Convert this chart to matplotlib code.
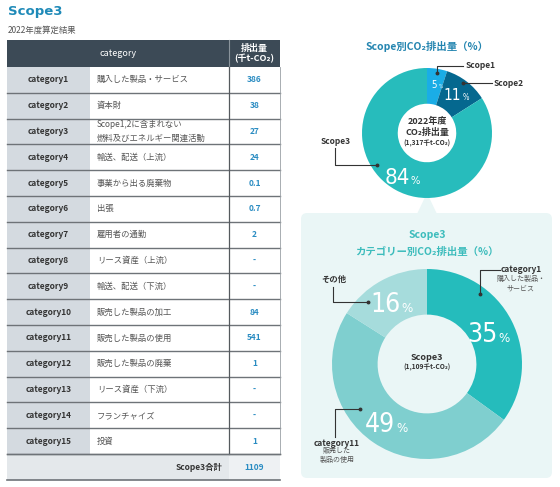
import matplotlib.pyplot as plt
import numpy as np
from matplotlib.patches import FancyBboxPatch, Polygon

plt.rcParams['font.family'] = ['Noto Sans CJK JP', 'DejaVu Sans']

# data
categories = ['category%d' % i for i in range(1, 16)]
descriptions = ['購入した製品・サービス', '資本財',
                'Scope1,2に含まれない\n燃料及びエネルギー関連活動',
                '輸送、配送（上流）', '事業から出る廃棄物', '出張', '雇用者の通勤',
                'リース資産（上流）', '輸送、配送（下流）', '販売した製品の加工',
                '販売した製品の使用', '販売した製品の廃棄', 'リース資産（下流）',
                'フランチャイズ', '投資']
emissions = ['386', '38', '27', '24', '0.1', '0.7', '2', '-', '-', '84',
             '541', '1', '-', '-', '1']
total_label = 'Scope3合計'
total_value = '1109'

scope_labels = ['Scope1', 'Scope2', 'Scope3']
scope_share = [5, 11, 84]
scope_colors = ['#1aade6', '#05688f', '#27bcbc']

cat_labels = ['category1', 'category11', 'その他']
cat_share = [35, 49, 16]
cat_colors = ['#25bcbc', '#7fcfcf', '#a6dcdc']

W, H = 560, 487
fig = plt.figure(figsize=(W / 100, H / 100), dpi=100)
bg = fig.add_axes([0, 0, 1, 1])
bg.set_xlim(0, W)
bg.set_ylim(H, 0)
bg.axis('off')

dark = '#333333'
blue = '#2a8cc2'

# headings
bg.text(8, 12, 'Scope3', fontsize=9.5, fontweight='bold', color='#1f8ab8',
        va='center', family=['DejaVu Sans'])
bg.text(8, 30, '2022年度算定結果', fontsize=6, color='#555555', va='center')

# table
x0, x1, x2, x3 = 7, 90, 229, 280
head_top, head_bot = 40, 67
row_h = 25.8
bg.add_patch(plt.Rectangle((x0, head_top), x3 - x0, head_bot - head_top,
                           color='#3c4a56', lw=0))
bg.plot([x2, x2], [head_top, head_bot], color='#8a949c', lw=0.8)
bg.text((x0 + x2) / 2, (head_top + head_bot) / 2, 'category', color='white',
        fontsize=6.5, ha='center', va='center')
bg.text((x2 + x3) / 2, 48, '排出量', color='white', fontsize=6.5,
        ha='center', va='center', fontweight='bold')
bg.text((x2 + x3) / 2, 59, '(千t-CO₂)', color='white', fontsize=6.5,
        ha='center', va='center', fontweight='bold')

for i, (cat, desc, val) in enumerate(zip(categories, descriptions, emissions)):
    top = head_bot + i * row_h
    mid = top + row_h / 2
    bg.add_patch(plt.Rectangle((x0, top), x1 - x0, row_h, color='#d4dae0', lw=0))
    bg.text((x0 + x1) / 2, mid, cat, fontsize=6, fontweight='bold', color=dark,
            ha='center', va='center')
    bg.text(97, mid, desc, fontsize=6, color='#555555', ha='left', va='center',
            linespacing=1.7)
    bg.text((x2 + x3) / 2, mid, val, fontsize=6, fontweight='bold', color=blue,
            ha='center', va='center')
    bg.plot([x0, x3], [top + row_h, top + row_h], color='#6e7378', lw=1.0)

tab_bot = head_bot + len(categories) * row_h
bg.plot([x2, x2], [head_bot, tab_bot], color='#555a5e', lw=0.9)
bg.plot([x3, x3], [head_bot, tab_bot], color='#9aa0a5', lw=0.6)
bg.add_patch(plt.Rectangle((x0, tab_bot), x2 - x0, 26, color='#e4e8eb', lw=0))
bg.add_patch(plt.Rectangle((x2, tab_bot), x3 - x2, 26, color='#eef1f3', lw=0))
bg.plot([x0, x3], [tab_bot, tab_bot], color='#6e7378', lw=1.0)
bg.plot([x0, x3], [tab_bot + 26, tab_bot + 26], color='#6e7378', lw=1.2)
bg.text(x2 - 7, tab_bot + 13, total_label, fontsize=6, fontweight='bold',
        color=dark, ha='right', va='center')
bg.text((x2 + x3) / 2, tab_bot + 13, total_value, fontsize=6, fontweight='bold',
        color=blue, ha='center', va='center')

# callout panel
bg.add_patch(FancyBboxPatch((301, 213), 251, 265,
                            boxstyle='round,pad=0,rounding_size=6',
                            fc='#eaf6f6', ec='none'))
bg.add_patch(Polygon([(417, 214), (427, 193), (437, 214)], closed=True,
                     fc='#eaf6f6', ec='none'))

bg.text(427, 46, 'Scope別CO₂排出量（%）', fontsize=7.5, fontweight='bold',
        color='#2485b0', ha='center', va='center')
bg.text(427, 235, 'Scope3', fontsize=7.5, fontweight='bold',
        color='#3cbcbc', ha='center', va='center')
bg.text(427, 252, 'カテゴリー別CO₂排出量（%）', fontsize=7.5, fontweight='bold',
        color='#3cbcbc', ha='center', va='center')


def donut(cx, cy, r, values, colors, width):
    ax = fig.add_axes([(cx - r) / W, 1 - (cy + r) / H, 2 * r / W, 2 * r / H])
    wedges, _ = ax.pie(values, colors=colors, startangle=90, counterclock=False,
                       radius=1, wedgeprops=dict(width=width, lw=0))
    ax.set_xlim(-1, 1)
    ax.set_ylim(-1, 1)
    ax.axis('off')
    return wedges


top_ax = fig.add_axes([0, 0, 1, 1], zorder=5)
top_ax.set_xlim(0, W)
top_ax.set_ylim(H, 0)
top_ax.axis('off')
top_ax.patch.set_alpha(0)


def pct_labels(wedges, values, cx, cy, r, dist, sizes):
    for w, v, fs in zip(wedges, values, sizes):
        ang = np.deg2rad((w.theta1 + w.theta2) / 2)
        px = cx + dist * r * np.cos(ang)
        py = cy - dist * r * np.sin(ang)
        shift = 0.28 * fs * 1.39
        base = py + 0.36 * fs * 1.39
        top_ax.text(px + shift, base, str(v), fontsize=fs, color='white',
                    ha='right', va='baseline', family=['DejaVu Sans'],
                    fontstretch='condensed')
        top_ax.text(px + shift + 1, base, '%', fontsize=fs * 0.5, color='white',
                    ha='left', va='baseline', family=['DejaVu Sans'],
                    fontstretch='condensed')


def leader(pts, color=dark):
    xs, ys = zip(*pts)
    top_ax.plot(xs, ys, color=color, lw=0.8)
    top_ax.plot(xs[0], ys[0], 'o', color=color, ms=1.8)


# Scope donut
c1x, c1y, r1 = 427, 133, 65
w1 = donut(c1x, c1y, r1, scope_share, scope_colors, 0.55)
pct_labels(w1, scope_share, c1x, c1y, r1, 0.75, [7, 11, 16])
top_ax.text(c1x, 121, '2022年度', fontsize=6.5, fontweight='bold', color=dark,
            ha='center', va='center')
top_ax.text(c1x, 132, 'CO₂排出量', fontsize=6.5, fontweight='bold', color=dark,
            ha='center', va='center')
top_ax.text(c1x, 143, '(1,317千t-CO₂)', fontsize=4.8, fontweight='bold',
            color=dark, ha='center', va='center')

leader([(437, 73), (437, 66), (463, 66)])
top_ax.text(466, 66, scope_labels[0], fontsize=6, fontweight='bold', color=dark,
            ha='left', va='center')
leader([(463, 83), (492, 83)])
top_ax.text(494, 83, scope_labels[1], fontsize=6, fontweight='bold', color=dark,
            ha='left', va='center')
leader([(377, 165), (335, 165), (335, 148)])
top_ax.text(336, 141, scope_labels[2], fontsize=6, fontweight='bold', color=dark,
            ha='center', va='center')

# Scope3 category donut
c2x, c2y, r2 = 427, 364, 95
w2 = donut(c2x, c2y, r2, cat_share, cat_colors, 0.48)
pct_labels(w2, cat_share, c2x, c2y, r2, 0.74, [19, 19, 19])
top_ax.text(c2x, 357, 'Scope3', fontsize=6.5, fontweight='bold', color=dark,
            ha='center', va='center')
top_ax.text(c2x, 367, '(1,109千t-CO₂)', fontsize=4.8, fontweight='bold',
            color=dark, ha='center', va='center')

leader([(480, 294), (480, 270), (500, 270)])
top_ax.text(521, 270, cat_labels[0], fontsize=6, fontweight='bold', color=dark,
            ha='center', va='center')
top_ax.text(521, 284, '購入した製品・\nサービス', fontsize=5, color='#555555',
            ha='center', va='center', linespacing=1.3)
leader([(368, 302), (333, 302), (333, 287)])
top_ax.text(334, 279, cat_labels[2], fontsize=6, fontweight='bold', color=dark,
            ha='center', va='center')
leader([(360, 409), (335, 409), (335, 437)])
top_ax.text(337, 443, cat_labels[1], fontsize=6, fontweight='bold', color=dark,
            ha='center', va='center')
top_ax.text(337, 455, '販売した\n製品の使用', fontsize=5, color='#555555',
            ha='center', va='center', linespacing=1.3)

fig.savefig('out.png', dpi=100, facecolor='white')
